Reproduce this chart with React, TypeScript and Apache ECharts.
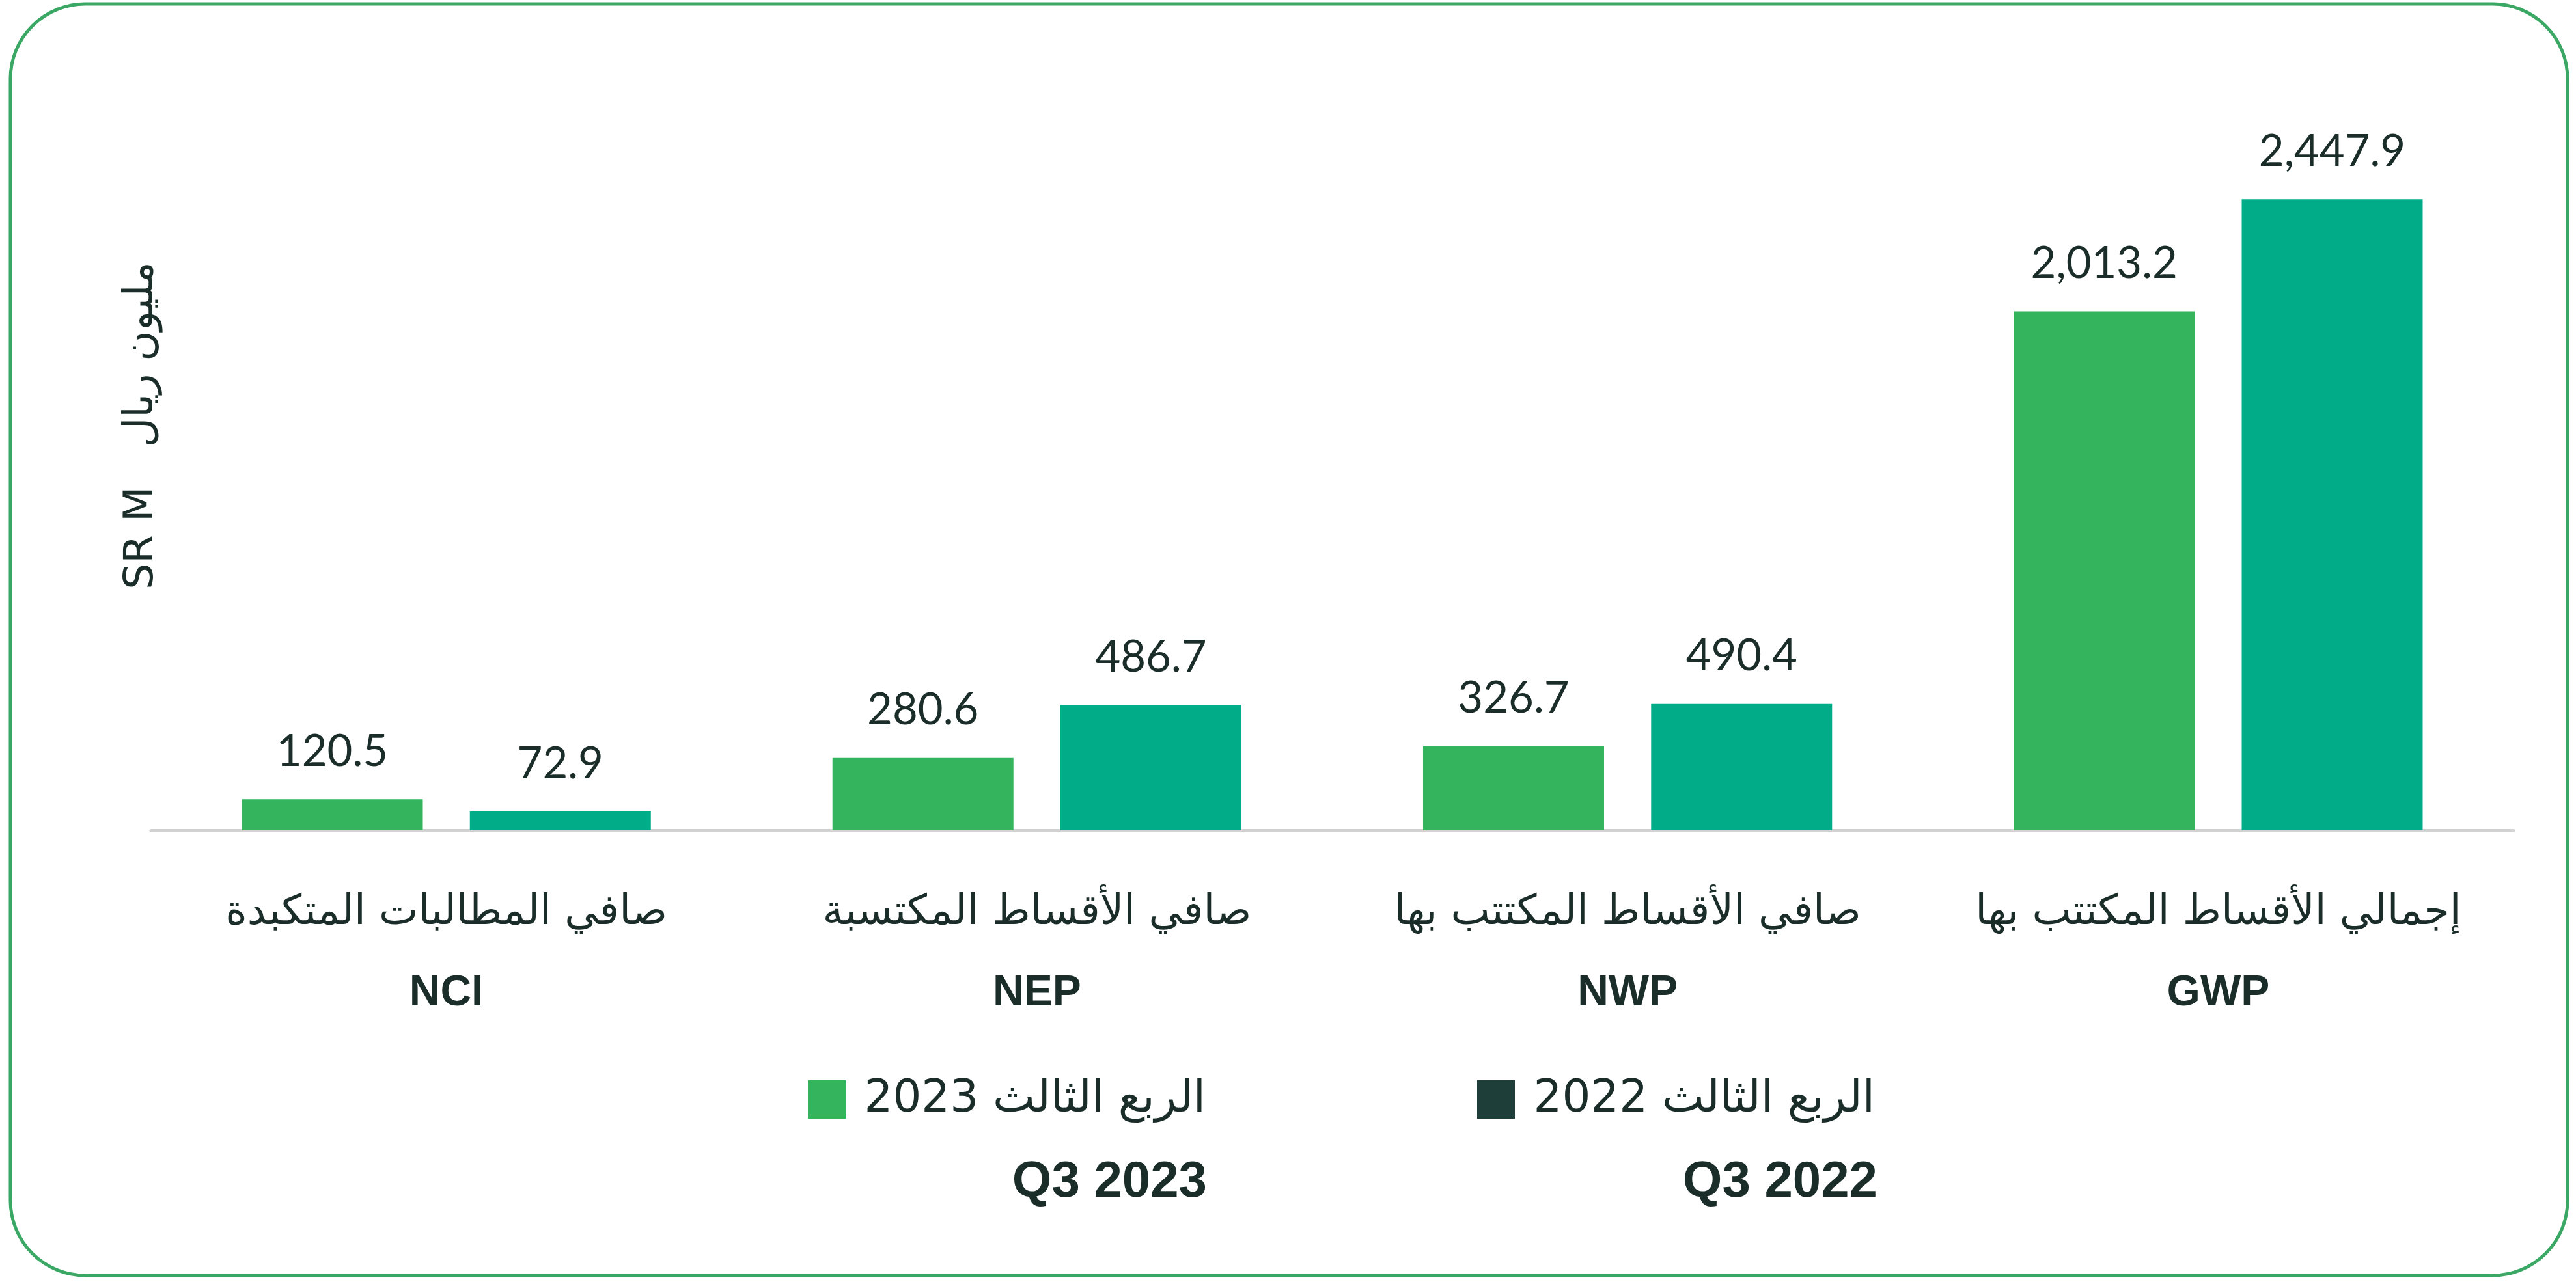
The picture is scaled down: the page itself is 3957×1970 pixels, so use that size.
import React, { useEffect, useRef } from "react";
import * as echarts from "echarts";

const categoriesAr = ["صافي المطالبات المتكبدة", "صافي الأقساط المكتسبة", "صافي الأقساط المكتتب بها", "إجمالي الأقساط المكتتب بها"];
const categoriesEn = ["NCI", "NEP", "NWP", "GWP"];
const q3_2023 = [120.5, 280.6, 326.7, 2013.2];
const q3_2022 = [72.9, 486.7, 490.4, 2447.9];
const legendAr = ["الربع الثالث 2023", "الربع الثالث 2022"];
const legendEn = ["Q3 2023", "Q3 2022"];
const yAxisName = "SR M   مليون ريال";

const C2023 = "#35b45e";
const C2022 = "#00ad88";
const CLEG2022 = "#1e3f39";
const TXT = "#1b2d29";

const fmt = (v: number) =>
  v.toLocaleString("en-US", { minimumFractionDigits: 1, maximumFractionDigits: 1 });

export default function App() {
  const ref = useRef<HTMLDivElement>(null);
  useEffect(() => {
    document.body.style.margin = "0";
    const chart = echarts.init(ref.current!, null, { renderer: "svg" });
    const labelStyle = {
      show: true,
      position: "top" as const,
      distance: 44,
      fontFamily: "Lato, 'DejaVu Sans', sans-serif",
      fontSize: 67,
      color: TXT,
      formatter: (p: any) => fmt(p.value),
    };
    chart.setOption({
      animation: false,
      backgroundColor: "#ffffff",
      grid: { left: 232, right: 96, top: 36, bottom: 1970 - 1276 },
      xAxis: {
        type: "category",
        data: categoriesEn,
        axisLine: { lineStyle: { color: "#d2d2d2", width: 5 } },
        axisTick: { show: false },
        axisLabel: {
          margin: 60,
          interval: 0,
          formatter: (_v: string, i: number) => `{ar|${categoriesAr[i]}}\n{en|${categoriesEn[i]}}`,
          rich: {
            ar: { fontFamily: "'DejaVu Sans', sans-serif", fontSize: 64, lineHeight: 124, color: TXT },
            en: {
              fontFamily: "'Liberation Sans', Arial, sans-serif",
              fontWeight: "bold",
              fontSize: 66,
              lineHeight: 124,
              color: TXT,
            },
          },
        },
      },
      yAxis: {
        type: "value",
        min: 0,
        max: 3130,
        axisLine: { show: false },
        axisTick: { show: false },
        axisLabel: { show: false },
        splitLine: { show: false },
      },
      series: [
        {
          name: legendEn[0],
          type: "bar",
          data: q3_2023,
          barWidth: 278,
          barGap: "26%",
          itemStyle: { color: C2023 },
          label: labelStyle,
        },
        {
          name: legendEn[1],
          type: "bar",
          data: q3_2022,
          barWidth: 278,
          barGap: "26%",
          itemStyle: { color: C2022 },
          label: labelStyle,
        },
      ],
      graphic: [
        {
          type: "rect",
          shape: { x: 16, y: 6, width: 3928, height: 1954, r: 115 },
          style: { fill: "none", stroke: "#3aa864", lineWidth: 5 },
          z: -1,
        },
        {
          type: "text",
          x: 212,
          y: 654,
          rotation: Math.PI / 2,
          style: {
            text: yAxisName,
            fontFamily: "'DejaVu Sans', sans-serif",
            fontSize: 63,
            fill: TXT,
            align: "center",
            verticalAlign: "middle",
          },
        },
        { type: "rect", shape: { x: 1241, y: 1660, width: 58, height: 59 }, style: { fill: C2023 } },
        {
          type: "text",
          x: 1852,
          y: 1684,
          style: {
            text: legendAr[0],
            fontFamily: "'DejaVu Sans', sans-serif",
            fontSize: 69,
            fill: TXT,
            align: "right",
            verticalAlign: "middle",
          },
        },
        {
          type: "text",
          x: 1854,
          y: 1812,
          style: {
            text: legendEn[0],
            fontFamily: "'Liberation Sans', Arial, sans-serif",
            fontWeight: "bold",
            fontSize: 78,
            fill: TXT,
            align: "right",
            verticalAlign: "middle",
          },
        },
        { type: "rect", shape: { x: 2269, y: 1660, width: 58, height: 59 }, style: { fill: CLEG2022 } },
        {
          type: "text",
          x: 2880,
          y: 1684,
          style: {
            text: legendAr[1],
            fontFamily: "'DejaVu Sans', sans-serif",
            fontSize: 69,
            fill: TXT,
            align: "right",
            verticalAlign: "middle",
          },
        },
        {
          type: "text",
          x: 2884,
          y: 1812,
          style: {
            text: legendEn[1],
            fontFamily: "'Liberation Sans', Arial, sans-serif",
            fontWeight: "bold",
            fontSize: 78,
            fill: TXT,
            align: "right",
            verticalAlign: "middle",
          },
        },
      ],
    });
    return () => chart.dispose();
  }, []);
  return <div ref={ref} style={{ width: 3957, height: 1970 }} />;
}
